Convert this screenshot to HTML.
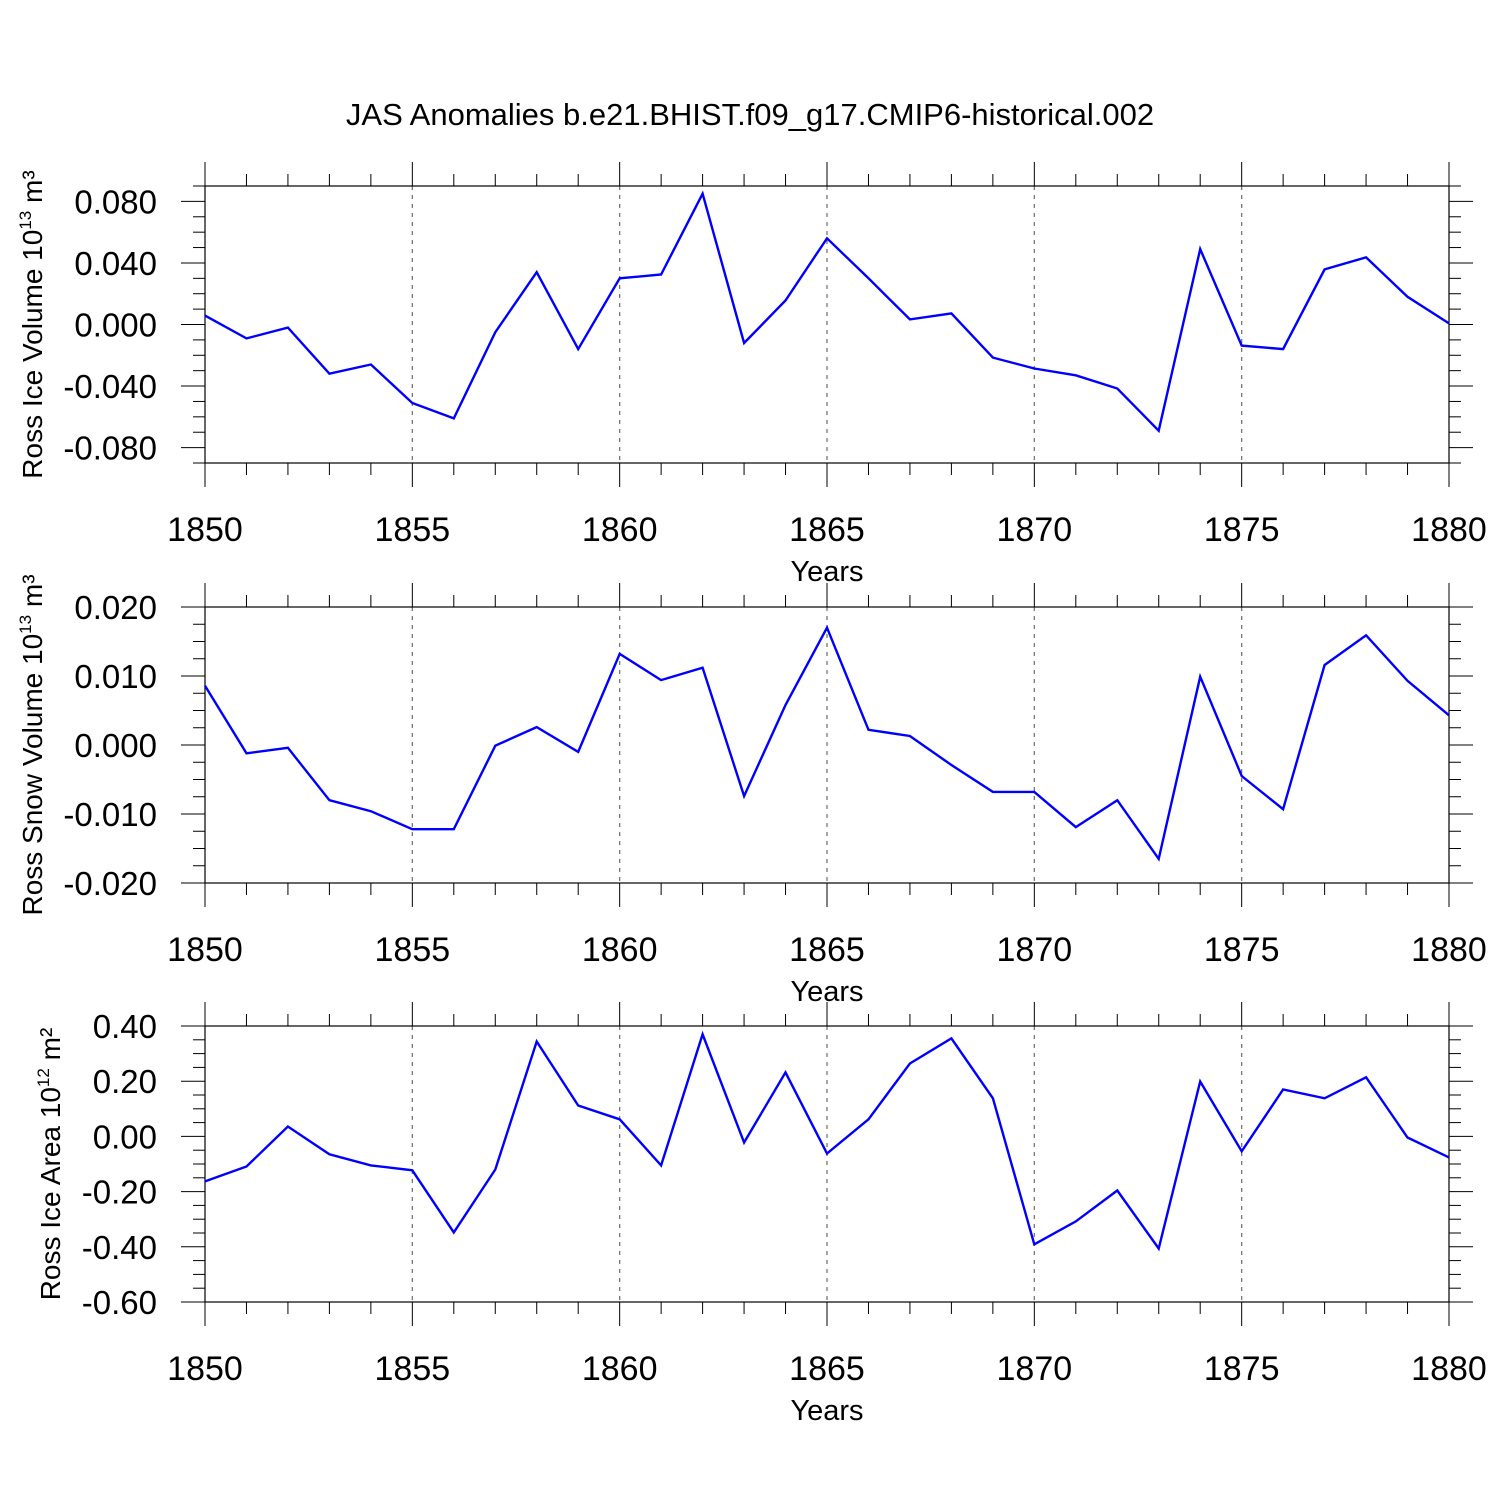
<!DOCTYPE html>
<html><head><meta charset="utf-8"><style>
html,body{margin:0;padding:0;background:#fff}
svg{display:block;font-family:"Liberation Sans",sans-serif}
</style></head><body>
<svg id="chart" width="1500" height="1500" viewBox="0 0 1500 1500" xmlns="http://www.w3.org/2000/svg">
<rect width="1500" height="1500" fill="#fff"/>
<text x="750" y="125" font-size="31" text-anchor="middle">JAS Anomalies b.e21.BHIST.f09_g17.CMIP6-historical.002</text>
</svg>
<script>
const years = [1850,1851,1852,1853,1854,1855,1856,1857,1858,1859,1860,1861,1862,1863,1864,1865,1866,1867,1868,1869,1870,1871,1872,1873,1874,1875,1876,1877,1878,1879,1880];
const iceVolume = [0.0058,-0.009,-0.002,-0.032,-0.026,-0.051,-0.061,-0.005,0.034,-0.016,0.030,0.0325,0.085,-0.012,0.0156,0.056,0.030,0.0033,0.0072,-0.0215,-0.0286,-0.033,-0.0416,-0.069,0.049,-0.0137,-0.016,0.0358,0.0436,0.018,0.0007];
const snowVolume = [0.0086,-0.0012,-0.0004,-0.008,-0.0096,-0.0122,-0.0122,-0.0001,0.0026,-0.001,0.0132,0.0094,0.0112,-0.0074,0.0058,0.017,0.0022,0.0013,-0.0029,-0.0068,-0.0068,-0.0119,-0.008,-0.0165,0.0099,-0.0045,-0.0093,0.0116,0.0159,0.0093,0.0043];
const iceArea = [-0.163,-0.109,0.036,-0.065,-0.105,-0.123,-0.348,-0.12,0.344,0.112,0.062,-0.105,0.37,-0.022,0.232,-0.062,0.062,0.264,0.355,0.138,-0.391,-0.308,-0.196,-0.406,0.199,-0.054,0.17,0.138,0.214,-0.004,-0.076];
const xTicks = [1850,1855,1860,1865,1870,1875,1880];
const iceVolTicks = [-0.08,-0.04,0,0.04,0.08];
const snowTicks = [-0.02,-0.01,0,0.01,0.02];
const areaTicks = [-0.6,-0.4,-0.2,0,0.2,0.4];

const NS="http://www.w3.org/2000/svg";
const svg=document.getElementById('chart');
function el(tag,attrs,parent){const e=document.createElementNS(NS,tag);for(const k in attrs)e.setAttribute(k,attrs[k]);(parent||svg).appendChild(e);return e;}
const X0=205,X1=1449;
const xs=y=>X0+(y-1850)/30*(X1-X0);

function panel(name,top,bot,ymin,ymax,data,ticks,minorStep,dec,labelMain,sup,labelUnit,labelX){
  const g=el('g',{});
  
  
  const ys=v=>bot-(v-ymin)/(ymax-ymin)*(bot-top);
  for(const t of xTicks.slice(1,-1)){
    const l=el('line',{x1:xs(t),x2:xs(t),y1:top,y2:bot,stroke:'#777','stroke-width':1.3,'stroke-dasharray':'4,5'},g);
    
    
  }
  for(let y=1850;y<=1880;y++){
    const major=(y%5===0), len=major?24:12;
    el('line',{x1:xs(y),x2:xs(y),y1:bot,y2:bot+len,stroke:'#000','stroke-width':1},g);
    el('line',{x1:xs(y),x2:xs(y),y1:top,y2:top-len,stroke:'#000','stroke-width':1},g);
  }
  for(const t of xTicks){
    const tx=el('text',{x:xs(t),y:bot+78,'font-size':34,'text-anchor':'middle'},g);
    tx.textContent=t;
    
    
  }
  const xt=el('text',{x:827,y:bot+118,'font-size':29,'text-anchor':'middle'},g);
  xt.textContent='Years';
  
  
  const n=Math.round((ymax-ymin)/minorStep);
  for(let i=0;i<=n;i++){
    const v=ymin+i*minorStep;
    const major=ticks.some(t=>Math.abs(t-v)<minorStep/10);
    const len=major?24:12;
    el('line',{x1:X0-len,x2:X0,y1:ys(v),y2:ys(v),stroke:'#000','stroke-width':1},g);
    el('line',{x1:X1,x2:X1+len,y1:ys(v),y2:ys(v),stroke:'#000','stroke-width':1},g);
  }
  for(const t of ticks){
    const tx=el('text',{x:157,y:ys(t)+12,'font-size':33,'text-anchor':'end'},g);
    tx.textContent=(Math.abs(t)<1e-12?0:t).toFixed(dec);
    
    
  }
  const yt=el('text',{transform:`translate(${labelX},${(top+bot)/2}) rotate(-90)`,'font-size':28,'text-anchor':'middle'},g);
  
  
  const s1=el('tspan',{},yt);s1.textContent=labelMain;
  const s2=el('tspan',{dy:-11,'font-size':17},yt);s2.textContent=sup;
  const s3=el('tspan',{dy:11},yt);s3.textContent=labelUnit;
  const fr=el('rect',{x:X0,y:top,width:X1-X0,height:bot-top,fill:'none',stroke:'#000','stroke-width':1.2},g);
  
  
  const pts=data.map((v,i)=>xs(years[i]).toFixed(1)+','+ys(v).toFixed(1)).join(' ');
  const pl=el('polyline',{points:pts,fill:'none',stroke:'#0000ff','stroke-width':2.4,'stroke-linejoin':'miter'},g);
  
  
}
panel('ice-volume',186,463,-0.09,0.09,iceVolume,iceVolTicks,0.01,3,'Ross Ice Volume 10','13',' m\u00B3',42);
panel('snow-volume',607,883,-0.02,0.02,snowVolume,snowTicks,0.0025,3,'Ross Snow Volume 10','13',' m\u00B3',42);
panel('ice-area',1026,1302,-0.6,0.4,iceArea,areaTicks,0.05,2,'Ross Ice Area 10','12',' m\u00B2',60);
</script>
</body></html>
